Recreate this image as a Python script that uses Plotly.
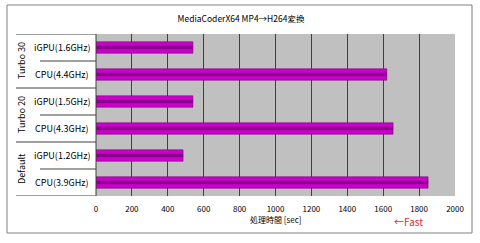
import plotly.graph_objects as go

categories = ["CPU(3.9GHz)", "iGPU(1.2GHz)", "CPU(4.3GHz)", "iGPU(1.5GHz)", "CPU(4.4GHz)", "iGPU(1.6GHz)"]
values = [1850, 485, 1655, 540, 1620, 540]
groups = ["Default", "Turbo 20", "Turbo 30"]
x_ticks = list(range(0, 2001, 200))

FONT = "Noto Sans CJK JP"

fig = go.Figure()
fig.add_trace(go.Bar(y=categories, x=values, orientation="h", width=0.42,
                     marker=dict(color="#cc00cc", line=dict(color="#7a007a", width=0.6)),
                     hoverinfo="skip"))
fig.add_trace(go.Bar(y=categories, x=values, orientation="h", width=0.13,
                     marker=dict(color="#8a008a", line=dict(width=0)),
                     hoverinfo="skip"))

shapes = []
# outer border
shapes.append(dict(type="rect", xref="paper", yref="paper",
                   x0=(7 - 96) / 359, x1=(472 - 96) / 359,
                   y0=(243 - 47 - 233) / 162, y1=(243 - 47 - 5) / 162,
                   line=dict(color="#808080", width=1), fillcolor="rgba(0,0,0,0)", layer="below"))
# group separators (long)
for yb in [-0.5, 1.5, 3.5, 5.5]:
    shapes.append(dict(type="line", xref="paper", yref="y", x0=(16 - 96) / 359, x1=0,
                       y0=yb, y1=yb, line=dict(color="#404040", width=1)))
# sub separators (short)
for yb in [0.5, 2.5, 4.5]:
    shapes.append(dict(type="line", xref="paper", yref="y", x0=(40 - 96) / 359, x1=0,
                       y0=yb, y1=yb, line=dict(color="#404040", width=1)))
# left axis line
shapes.append(dict(type="line", xref="paper", yref="y", x0=0, x1=0, y0=-0.5, y1=5.5,
                   line=dict(color="#404040", width=1)))

annotations = []
for i, g in enumerate(groups):
    annotations.append(dict(text=g, xref="paper", yref="y", x=(21 - 96) / 359, y=2 * i + 0.5,
                            xanchor="center", yanchor="middle",
                            showarrow=False, textangle=-90, font=dict(family=FONT, size=9, color="#000")))
for i, c in enumerate(categories):
    annotations.append(dict(text=c, xref="paper", yref="y", x=(62 - 96) / 359, y=i,
                            xanchor="center", yanchor="middle",
                            showarrow=False, font=dict(family=FONT, size=9, color="#000")))
annotations.append(dict(text="処理時間 [sec]", xref="paper", yref="paper", x=0.5,
                        y=(243 - 47 - 219) / 162, xanchor="center", yanchor="middle", showarrow=False,
                        font=dict(family=FONT, size=8, color="#000")))
annotations.append(dict(text="←Fast", xref="paper", yref="paper", x=(408 - 96) / 359,
                        y=(243 - 47 - 221) / 162, xanchor="center", yanchor="middle", showarrow=False,
                        font=dict(family=FONT, size=10, color="#e03030")))

fig.update_layout(
    width=480, height=243,
    margin=dict(l=96, r=25, t=34, b=47),
    paper_bgcolor="#ffffff", plot_bgcolor="#c0c0c0",
    barmode="overlay", showlegend=False,
    title=dict(text="MediaCoderX64 MP4→H264変換", x=241 / 480, xanchor="center",
               y=1 - 19 / 243, yanchor="middle", font=dict(family=FONT, size=8.5, color="#000")),
    xaxis=dict(range=[0, 2000], tickvals=x_ticks, ticktext=[str(t) for t in x_ticks],
               showgrid=True, gridcolor="#404040", gridwidth=1, zeroline=False,
               ticks="outside", ticklen=5, tickcolor="rgba(0,0,0,0)",
               tickfont=dict(family=FONT, size=8, color="#000"),
               fixedrange=True),
    yaxis=dict(categoryorder="array", categoryarray=categories, showticklabels=False,
               showgrid=False, zeroline=False, range=[-0.5, 5.5], fixedrange=True),
    shapes=shapes, annotations=annotations,
)

fig.write_html("out.html", config={"displayModeBar": False})
